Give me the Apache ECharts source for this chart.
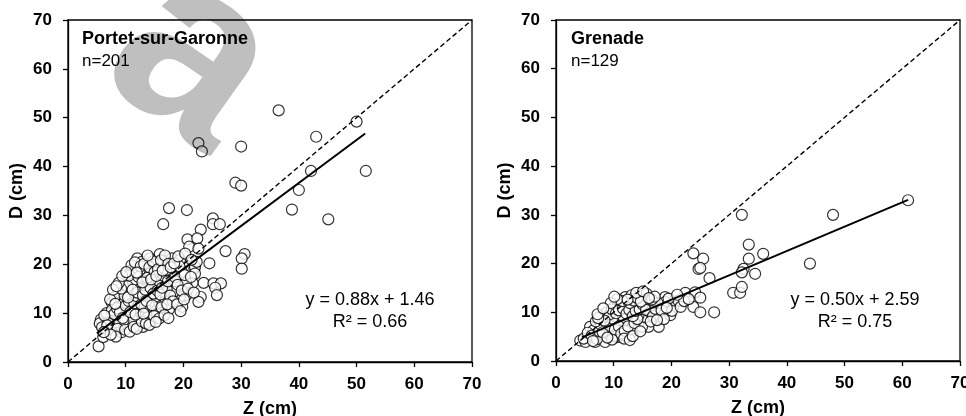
<!DOCTYPE html>
<html><head><meta charset="utf-8">
<script src="https://cdn.jsdelivr.net/npm/echarts@6/dist/echarts.min.js"></script>
<style>html,body{margin:0;padding:0;background:#fff}#c{width:966px;height:416px}</style>
</head><body><div id="c"></div>
<script>
// ---- data ----
const axisRange = [0, 70];
const axisStep = 10;
const identityLine = [0, 70];

const portetTitle = 'Portet-sur-Garonne';
const portetN = 'n=201';
const portetEq = 'y = 0.88x + 1.46';
const portetR2 = 'R² = 0.66';
const portetFit = [0.88, 1.46];      // slope, intercept
const portetFitX = [5, 51.5];

const grenadeTitle = 'Grenade';
const grenadeN = 'n=129';
const grenadeEq = 'y = 0.50x + 2.59';
const grenadeR2 = 'R² = 0.75';
const grenadeFit = [0.50, 2.59];
const grenadeFitX = [4.5, 61];

const portetPoints = [
 [36.5,51.5],[50,49.2],[43,46.1],[22.6,44.8],[23.2,43.1],[30,44.1],[29,36.7],[30,36.1],[42.1,39.1],[51.6,39.1],
 [40,35.2],[38.8,31.2],[45.1,29.2],[17.5,31.5],[20.6,31.1],[16.5,28.2],[25.1,29.4],[25.1,28.2],[26.3,28.2],[23,27.1],
 [20.7,25.1],[22.4,25.3],[21,23.6],[22.6,23.2],[27.3,22.7],[30.6,22.1],[30.1,21.2],[30.1,19.1],[24.5,20.2],[15.9,22.1],
 [18,21.2],[20,20.3],[21.9,19.1],[21.6,16.2],[23.5,16.2],[25.2,16.1],[26.5,16.1],[25.5,15.2],[25.8,13.7],[23,13.3],
 [22.6,12.3],[19.8,11.3],[18.8,15.5],
 [5.3,3.2],[6.1,5.1],[5.7,8.7],[5.5,7.9],[7.9,6.5],[9.3,6.1],[6.7,10],[7.6,12.1],[7.6,10.6],[8.7,14.3],
 [8.1,13.3],[9.6,12],[10.7,14],[11.2,16.7],[11,18.8],[12,21.2],[12.8,20.5],[14.2,21.2],[13.3,18.8],[15.4,20.2],
 [11.3,16.1],[12.5,15],[13.9,16.1],[15.1,16.7],[14.2,18.1],[10.2,9.2],[12.5,9.2],[13.9,9.2],[13.3,11.3],[11.3,10.9],
 [10.2,7.5],[9,7.5],[12.2,7.5],[13,7.2],[14.5,8.5],[15.4,10.6],[15.9,12],[15.1,13.3],
 [19.4,20.9],[22,19.5],[22,18.1],[18,18.1],[19.7,18.5],[16.5,16.2],[18.5,16.5],[20.5,16.2],[20.5,13.7],[19.4,13.3],
 [16.5,10.2],[15.4,9.9],[11.1,8.8],[9.6,8.5],[8.1,8.1],[18.3,14.3],[17.1,15],[15.7,15.7],[16.9,12.4],[17.5,10.8],
 [6.5,6.8],[7,8],[8,9.8],[8.5,11],[9,10.2],[9.5,9],[10,11.5],[10.5,12.5],[10.8,10.2],[11.5,12],
 [11.8,13.5],[12,14.2],[12.7,11.8],[13,13.6],[13.4,14.8],[13.6,12.5],[14.3,15.2],[14.6,11.6],[14.8,14],[15.5,14.6],
 [16,13.8],[16.3,15.2],[16.6,17.6],[17,18.8],[17.3,16.5],[17.7,13.6],[18.2,12.4],[18.6,17.3],[19,15.8],[19.3,19.6],
 [19.7,14.6],[20.2,17.8],[20.8,15],[21.3,17.4],[21.8,14.2],[22.3,20.5],[9.8,13.6],[10.3,15.5],[10.6,17.7],[11,19.8],
 [11.6,20.4],[12.2,17.4],[12.6,19.6],[13.2,20.1],[13.7,17.2],[14.1,19.4],[14.7,20.6],[15,18.4],[15.6,19],[16.1,20.8],
 [16.8,21.8],[17.4,20.1],[9.2,15],[8.8,16.2],[9.4,17.6],[10.1,18.4],[7.3,12.8],[7.8,14.8],[8.4,15.5],[6.3,9.5],
 [5.9,7.1],[6.8,7.5],[8.6,6.8],[9.9,6.6],[10.7,6.2],[11.4,7.2],[11.9,6.8],[12.8,8.3],[13.5,7.9],[14.1,7.6],
 [14.9,9.4],[15.8,8.9],[16.2,11.2],[16.7,9.6],[17.2,11.8],[11.7,9.7],[13.1,9.9],[10.4,13.2],[8.2,11.9],[11.2,14.8],
 [12.9,16.3],[14.4,16.9],[15.3,17.6],[16.4,18.7],[17.8,19.4],[18.4,20.2],[19.1,21.6],[20.3,22.2],[21.4,20.9],[13.8,21.8],
 [11.9,18.3],[18.9,11.8],[20.1,12.8],[19.5,10.4],[15.2,8.2],[17.4,9],[8.3,5.2],[7.4,5.6],[6.2,6.1]
];

const grenadePoints = [
 [61,33],[48,30],[44,20],[35.9,22],[33.4,23.9],[33.4,21],[34.5,17.9],[32.2,30],[32.5,18.9],[32.2,18.2],
 [30.7,14],[31.9,14],[32.2,15.2],[23.8,22.1],[25.5,21],[24.7,18.9],[25,19.1],[26.6,17],[22.4,14],[24.1,14.1],
 [25,13],[23.8,11.1],[25,10],[27.4,10],[18.9,13.1],[20.3,11.1],[21.2,12.4],[19.8,9.4],
 [4.2,4.2],[5.1,3.9],[6.8,3.9],[8.5,3.9],[10.6,4.9],[12.3,4.9],[13.1,5.9],[5.9,7],[6.5,6.3],[8.5,9],
 [8.8,10],[10,11.1],[11.1,11.4],[12,13.1],[13.1,13.5],[15.2,13.9],[15.7,13.8],[14.3,11.1],[16.3,11.4],[18.9,12.1],
 [17.8,7],[16,7],[14.9,7],[12.9,8],[13.1,6.6],[10.8,8.3],[11.7,8.3],[9.1,5.6],[10.3,5.1],[15.4,9],
 [16.3,10],[14.3,9.4],[11.4,9.4],
 [4.8,4.6],[5.5,5.8],[6.2,5.2],[7.1,4.5],[7.5,6.1],[7.8,7.4],[6.9,8.1],[8.1,5.9],[9.4,7.2],[9.8,8.7],
 [10.2,6.4],[10.9,7.1],[11.3,5.6],[11.9,6.2],[12.5,7.1],[13.6,7.8],[14.1,8.6],[9.3,9.6],[9.7,10.6],[10.4,9.8],
 [10.9,10.4],[11.6,10.8],[12.2,9.7],[12.7,10.5],[13.3,9.2],[13.8,10.3],[14.5,10.6],[15,11.6],[15.6,10.5],[16.8,9.2],
 [17.2,10.7],[17.6,11.9],[18.3,10.4],[18.7,8.6],[12.8,11.9],[13.5,12.4],[14.1,12.9],[14.7,12.2],[11.5,12.3],[10.6,12.7],
 [9.5,11.9],[8.4,8.3],[7.3,8.8],[16.6,12.6],[17.1,13.2],[19.5,12.8],[20.1,10.3],[21.6,11.1],[22.2,12.3],[21,13.6],
 [12.4,12.6],[10.1,13.2],[13.9,14],[15.1,14.3],[11.8,4.6],[12.8,4.3],[13.3,5.1],[9.7,4.4],[8.9,4.8],[6.4,4.1],
 [14.6,6.1],[16.4,8.1],[17.5,8.4],[19.2,10.9],[23,12.7],[7.2,9.6],[8.2,10.8],[16.1,12.9]
];

// ---- chart ----
const FONT = '"Liberation Sans", Arial, sans-serif';
function fitLine(fit, xr) { return xr.map(x => [x, fit[0] * x + fit[1]]); }
function idLine() { return identityLine.map(v => [v, v]); }

function xAxis(gi) {
  return {
    gridIndex: gi, type: 'value', min: axisRange[0], max: axisRange[1], interval: axisStep,
    name: 'Z (cm)', nameLocation: 'middle', nameGap: 38,
    nameTextStyle: { fontFamily: FONT, fontWeight: 'bold', fontSize: 18, color: '#000' },
    axisLine: { show: true, lineStyle: { color: '#000', width: 1.3 } },
    axisTick: { show: true, inside: false, length: 5, lineStyle: { color: '#000', width: 1.3 } },
    axisLabel: { fontFamily: FONT, fontWeight: 'bold', fontSize: 17, color: '#000', margin: 14 },
    splitLine: { show: false }
  };
}
function yAxis(gi) {
  return {
    gridIndex: gi, type: 'value', min: axisRange[0], max: axisRange[1], interval: axisStep,
    name: 'D (cm)', nameLocation: 'middle', nameGap: 42,
    nameTextStyle: { fontFamily: FONT, fontWeight: 'bold', fontSize: 18, color: '#000' },
    axisLine: { show: true, lineStyle: { color: '#000', width: 1.3 } },
    axisTick: { show: true, inside: false, length: 5, lineStyle: { color: '#000', width: 1.3 } },
    axisLabel: { fontFamily: FONT, fontWeight: 'bold', fontSize: 17, color: '#000', margin: 16 },
    splitLine: { show: false }
  };
}
const pointStyle = { color: '#fff', borderColor: '#000', borderWidth: 1.2 };
function scatter(gi, data) {
  return { type: 'scatter', xAxisIndex: gi, yAxisIndex: gi, data: data, symbol: 'circle', symbolSize: 11,
    itemStyle: pointStyle, z: 2, silent: true };
}
function line(gi, data, dashed) {
  return { type: 'line', xAxisIndex: gi, yAxisIndex: gi, data: data, showSymbol: false, symbol: 'none',
    lineStyle: dashed ? { color: '#000', width: 1.4, type: [5, 3] } : { color: '#000', width: 2 },
    z: 3, silent: true };
}
function txt(x, y, text, opt) {
  return { type: 'text', x: x, y: y, z: 50,
    style: Object.assign({ text: text, fill: '#000', font: '18px ' + FONT, align: 'left', verticalAlign: 'middle' }, opt || {}) };
}

const chart = echarts.init(document.getElementById('c'), null, { renderer: 'canvas' });
chart.setOption({
  animation: false,
  backgroundColor: '#fff',
  grid: [
    { left: 68, top: 20, width: 404, height: 342, show: true, borderColor: '#000', borderWidth: 1.3,
      backgroundColor: 'transparent', containLabel: false, outerBoundsMode: 'none' },
    { left: 556, top: 20, width: 404, height: 341, show: true, borderColor: '#000', borderWidth: 1.3,
      backgroundColor: 'transparent', containLabel: false, outerBoundsMode: 'none' }
  ],
  xAxis: [xAxis(0), xAxis(1)],
  yAxis: [yAxis(0), yAxis(1)],
  series: [
    scatter(0, portetPoints), scatter(1, grenadePoints),
    line(0, idLine(), true), line(1, idLine(), true),
    line(0, fitLine(portetFit, portetFitX), false), line(1, fitLine(grenadeFit, grenadeFitX), false)
  ],
  graphic: [
    txt(82, 39, portetTitle, { font: 'bold 18px ' + FONT }),
    txt(82, 61, portetN, { font: '17px ' + FONT }),
    txt(370, 300, portetEq, { align: 'center' }),
    txt(370, 322, portetR2, { align: 'center' }),
    txt(571, 39, grenadeTitle, { font: 'bold 18px ' + FONT }),
    txt(571, 61, grenadeN, { font: '17px ' + FONT }),
    txt(855, 300, grenadeEq, { align: 'center' }),
    txt(855, 322, grenadeR2, { align: 'center' }),
    { type: 'text', x: 192, y: 60, rotation: -0.62, z: 100, silent: true,
      style: { text: 'a', font: 'bold 250px ' + FONT, fill: 'rgba(0,0,0,0.25)', align: 'center', verticalAlign: 'middle' } }
  ]
});
</script>
</body></html>
